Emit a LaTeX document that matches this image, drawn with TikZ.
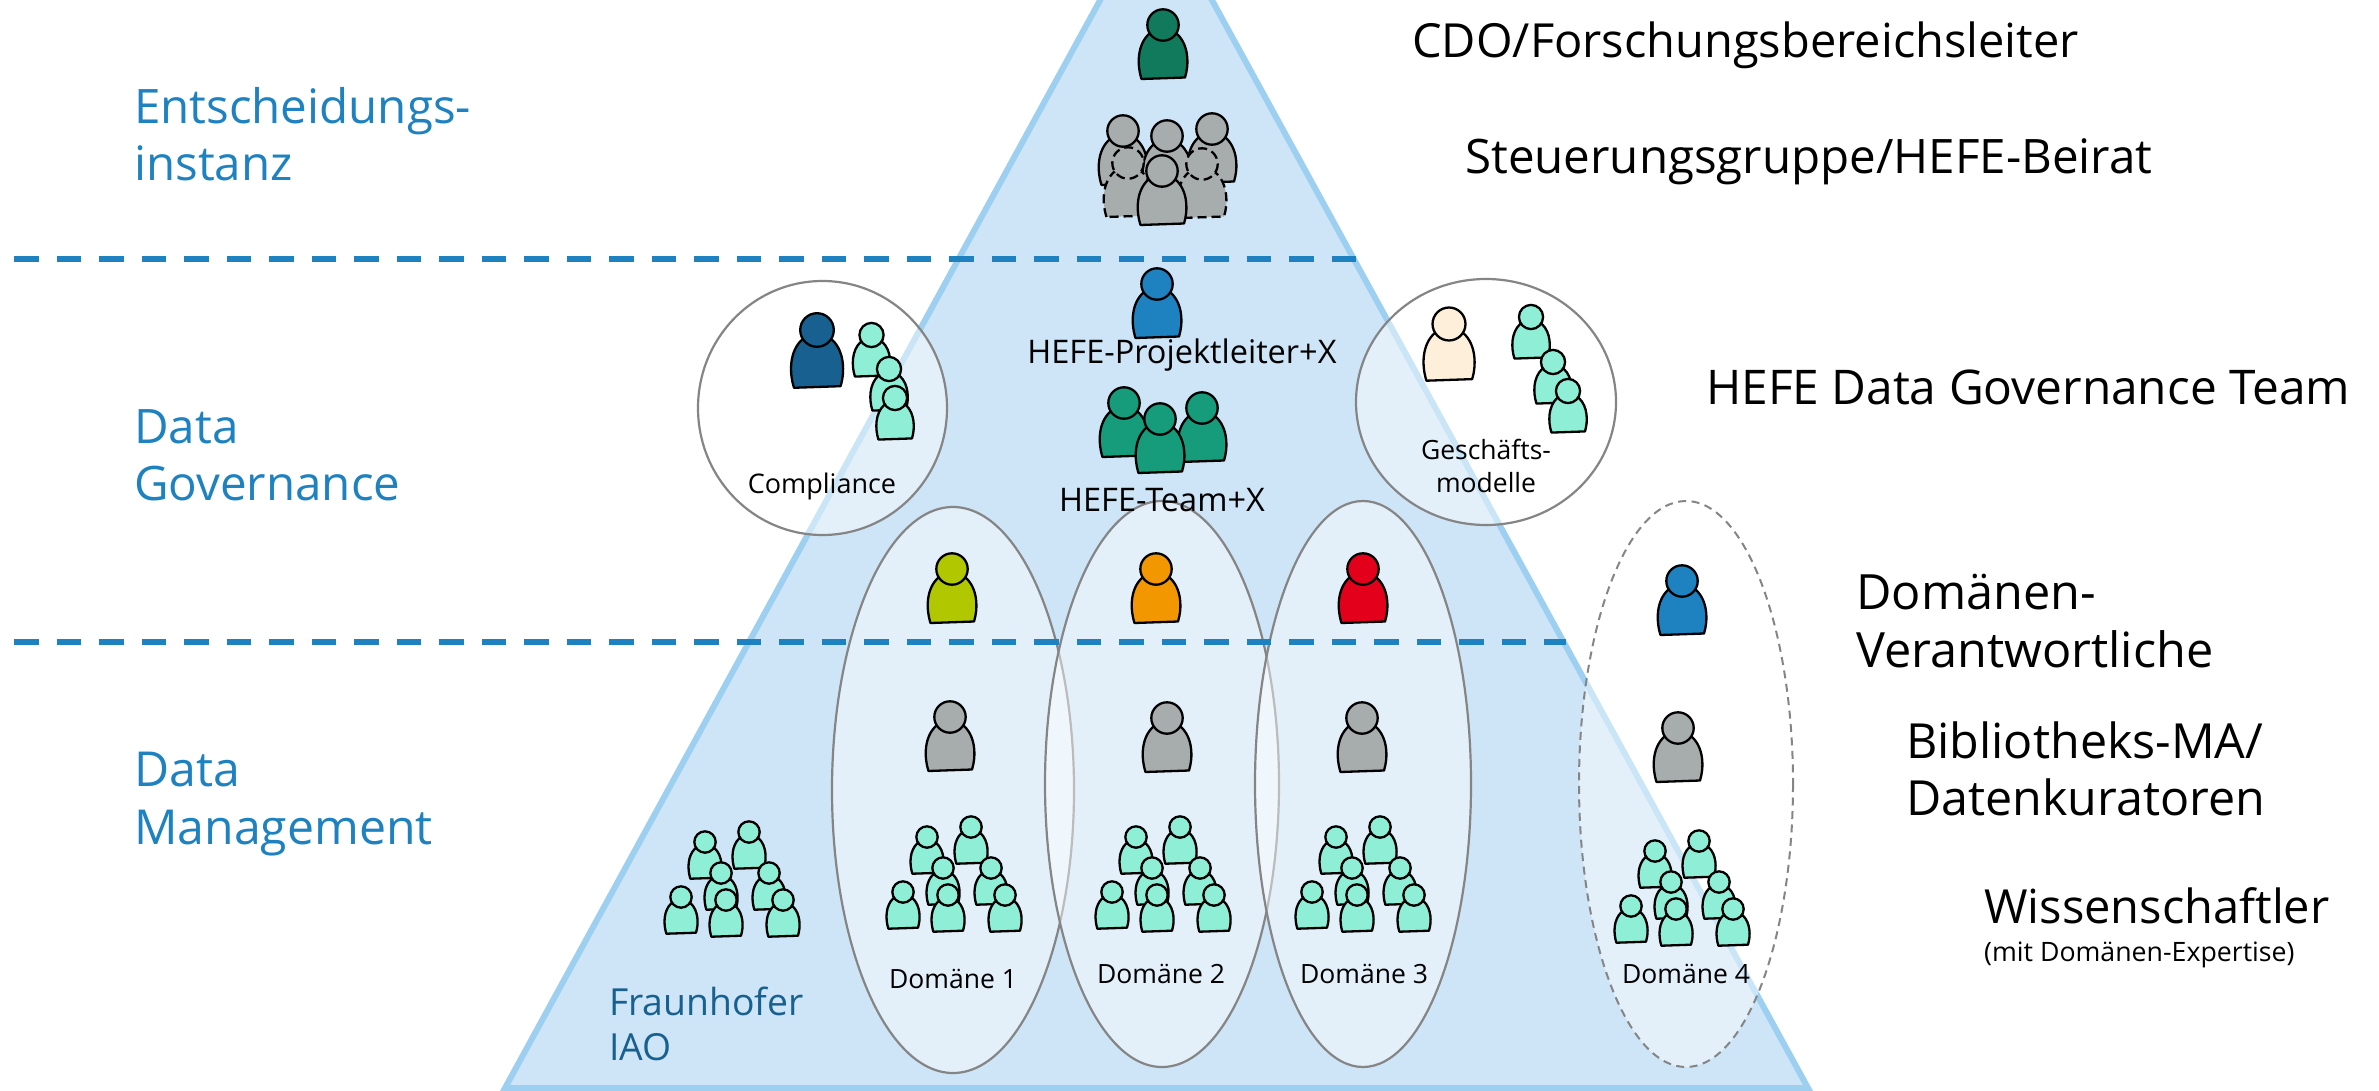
\documentclass[tikz,border=0pt]{standalone}
\usepackage{fontspec}
\setmainfont{Open Sans}
\definecolor{tri}{HTML}{CDE5F6}
\definecolor{triedge}{HTML}{9DD0F0}
\definecolor{fhblue}{HTML}{1F82C0}
\definecolor{fhdark}{HTML}{17608F}
\definecolor{cdo}{HTML}{127A5C}
\definecolor{grey}{HTML}{A7ADAC}
\definecolor{mint}{HTML}{8EEFD6}
\definecolor{teal}{HTML}{169C7A}
\definecolor{beige}{HTML}{FDEFD9}
\definecolor{olive}{HTML}{B1C800}
\definecolor{amber}{HTML}{F39700}
\definecolor{signal}{HTML}{E2001A}
\definecolor{ringc}{HTML}{858585}
\tikzset{
  person/.pic={
    \path[draw=black,line width=2.3pt,line join=round,fill=#1]
      (-21.5,54) .. controls (-26,40) and (-26,20) .. (-14,9) -- (14,9)
      .. controls (26,20) and (26,40) .. (22,52.5) -- cycle;
    \path[draw=black,line width=2.3pt,fill=#1] (0,0) circle (15.7);
  },
  persond/.pic={
    \path[draw=black,line width=2.3pt,line join=round,fill=#1,dash pattern=on 9pt off 5pt]
      (-21.5,54) .. controls (-26,40) and (-26,20) .. (-14,9) -- (14,9)
      .. controls (26,20) and (26,40) .. (22,52.5) -- cycle;
    \path[draw=black,line width=2.3pt,fill=#1,dash pattern=on 9pt off 5pt] (0,0) circle (15.7);
  },
  cluster/.pic={
    \pic[scale=.68] at (0,0) {person=mint};
    \pic[scale=.68] at (44,-10) {person=mint};
    \pic[scale=.68] at (16,31) {person=mint};
    \pic[scale=.68] at (64,31) {person=mint};
    \pic[scale=.68] at (-24,55) {person=mint};
    \pic[scale=.68] at (21,58) {person=mint};
    \pic[scale=.68] at (78,58) {person=mint};
  },
  ring/.style={draw=ringc,line width=2.2pt,fill=white,fill opacity=.45,draw opacity=1},
  ringd/.style={draw=ringc,line width=2pt,fill=white,fill opacity=.45,dash pattern=on 8pt off 5.5pt},
  sep/.style={draw=fhblue,line width=6pt,dash pattern=on 24.5pt off 18pt},
  lvl/.style={font=\fontsize{47.5}{57}\selectfont,text=fhblue,align=left,anchor=west,inner sep=0pt},
  role/.style={font=\fontsize{47}{57}\selectfont,text=black,align=left,anchor=west,inner sep=0pt},
  small/.style={font=\fontsize{32.5}{33}\selectfont,text=black,align=center,inner sep=0pt},
  tiny/.style={font=\fontsize{26.5}{33}\selectfont,text=black,align=center,inner sep=0pt},
}
\begin{document}
\begin{tikzpicture}[x=1pt,y=-1pt]
\useasboundingbox (0,0) rectangle (2379,1091);
\clip (0,0) rectangle (2379,1091);
\path[fill=white] (0,0) rectangle (2379,1091);
% pyramid
\coordinate (apex) at (1156,-102);
\coordinate (bl) at (505,1088);
\coordinate (br) at (1808,1088);
\path[fill=tri,draw=triedge,line width=6pt,line join=miter] (apex) -- (bl) -- (br) -- cycle;
% rings
\path[ring] (822.5,408) ellipse [x radius=124.5,y radius=127];
\path[ring] (1486,402) ellipse [x radius=130,y radius=123];
\path[ring] (953,790) ellipse [x radius=121,y radius=283];
\path[ring] (1162,784) ellipse [x radius=117,y radius=283];
\path[ring] (1363,784) ellipse [x radius=108,y radius=283];
\path[ringd] (1686,784) ellipse [x radius=107,y radius=283];
% separators
\coordinate (s1a) at (14,259); \coordinate (s1b) at (1357,259);
\coordinate (s2a) at (14,642); \coordinate (s2b) at (1566,642);
\draw[sep] (s1a) -- (s1b);
\draw[sep] (s2a) -- (s2b);
% top persons
\pic at (1163,25) {person=cdo};
\pic at (1123,131) {person=grey};
\pic at (1212,129) {person=grey};
\pic at (1167,136) {person=grey};
\pic at (1128,163) {persond=grey};
\pic at (1202,164) {persond=grey};
\pic at (1162,171) {person=grey};
% governance
\pic at (1157,284) {person=fhblue};
\pic at (1124,403) {person=teal};
\pic at (1202,408) {person=teal};
\pic at (1160,419) {person=teal};
\pic[scale=1.07] at (817,330) {person=fhdark};
\pic[scale=.77] at (871.5,335) {person=mint};
\pic[scale=.77] at (889,369) {person=mint};
\pic[scale=.77] at (895,398) {person=mint};
\pic[scale=1.05] at (1449,324) {person=beige};
\pic[scale=.77] at (1531,317) {person=mint};
\pic[scale=.77] at (1553,362) {person=mint};
\pic[scale=.77] at (1568,391) {person=mint};
% domain leads
\pic at (952,569) {person=olive};
\pic at (1156,569) {person=amber};
\pic at (1363,569) {person=signal};
\pic at (1682,581) {person=fhblue};
\pic at (950,717) {person=grey};
\pic at (1167,718) {person=grey};
\pic at (1362,718) {person=grey};
\pic at (1678,728) {person=grey};
% clusters
\pic at (705,842) {cluster};
\pic at (927,837) {cluster};
\pic at (1136,837) {cluster};
\pic at (1336,837) {cluster};
\pic at (1655,851) {cluster};
% level labels
\node[lvl] (l1) at (134,134) {Entscheidungs-\\instanz};
\node[lvl] (l2) at (134,455) {Data\\Governance};
\node[lvl,font=\fontsize{48.2}{57.5}\selectfont] (l3) at (134,804) {Data\\Management};
\node[lvl,font=\fontsize{37.3}{45}\selectfont,text=fhdark] (fh) at (609,1024) {Fraunhofer\\IAO};
% role labels
\node[role] (r1) at (1412,45) {CDO/Forschungsbereichsleiter};
\node[role,font=\fontsize{47.5}{57}\selectfont] (r2) at (1465,162) {Steuerungsgruppe/HEFE-Beirat};
\node[role,font=\fontsize{47.8}{57}\selectfont] (r3) at (1706,387) {HEFE Data Governance Team};
\node[role,font=\fontsize{48.6}{57.5}\selectfont] (r4) at (1856,621) {Domänen-\\Verantwortliche};
\node[role,font=\fontsize{48.4}{57}\selectfont] (r5) at (1906,769) {Bibliotheks-MA/\\Datenkuratoren};
\node[role] (r6) at (1984,906) {Wissenschaftler};
\node[tiny,anchor=west,font=\fontsize{26.7}{30}\selectfont] (r7) at (1984,955) {(mit Domänen-Expertise)};
% inner labels
\node[small] (t1) at (1182,355) {HEFE-Projektleiter+X};
\node[small] (t2) at (1162,500) {HEFE-Team+X};
\node[tiny,font=\fontsize{27}{33}\selectfont] (t3) at (822,486) {Compliance};
\node[tiny] (t4) at (1486,466) {Geschäfts-\\modelle};
\node[tiny] (d1) at (953,979) {Domäne 1};
\node[tiny] (d2) at (1161,974) {Domäne 2};
\node[tiny] (d3) at (1364,974) {Domäne 3};
\node[tiny] (d4) at (1686,974) {Domäne 4};
\end{tikzpicture}
\end{document}
